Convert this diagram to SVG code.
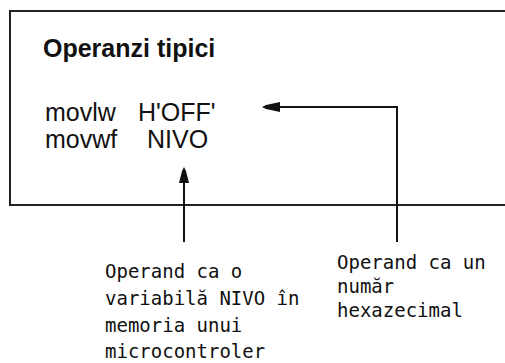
<svg xmlns="http://www.w3.org/2000/svg" width="505" height="363" viewBox="0 0 505 363">
<style>
.main{font-family:"Liberation Sans",Arial,sans-serif;font-size:25px;fill:#111}
.title{font-weight:bold}
.note{font-family:"DejaVu Sans Mono",monospace;font-size:19px;fill:#111}
.line{stroke:#111;stroke-width:2;fill:none}
.head{fill:#111}
</style>
<rect width="505" height="363" fill="#fff"/>
<g id="box">
<rect x="10" y="11" width="510" height="194" fill="none" stroke="#222" stroke-width="2"/>
<text class="main title" x="43" y="57">Operanzi tipici</text>
<text class="main" x="45" y="121">movlw</text>
<text class="main" x="138" y="121">H'OFF'</text>
<text class="main" x="45" y="148">movwf</text>
<text class="main" x="147" y="148">NIVO</text>
</g>
<g id="connectors">
<path class="line" d="M184,183 V242"/>
<path class="head" d="M184,167 L186,171 L189,183 L179,183 L182,171 Z"/>
<path class="line" d="M278,107 H397 V242"/>
<path class="head" d="M262,107 L266,105 L280,102 L280,112 L266,109 Z"/>
</g>
<g id="note-variabila">
<text class="note"><tspan x="105" y="278">Operand ca o</tspan><tspan x="105" y="305">variabilă NIVO în</tspan><tspan x="105" y="332">memoria unui</tspan><tspan x="105" y="358">microcontroler</tspan></text>
</g>
<g id="note-hexa">
<text class="note"><tspan x="337" y="269">Operand ca un</tspan><tspan x="337" y="293">număr</tspan><tspan x="337" y="317">hexazecimal</tspan></text>
</g>
</svg>
